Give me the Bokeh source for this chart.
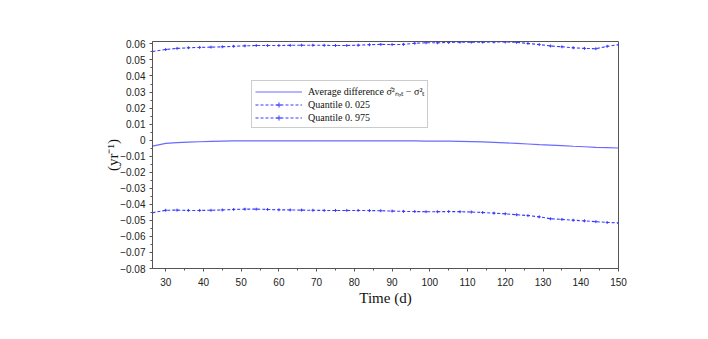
from bokeh.plotting import figure
from bokeh.models import (Range1d, FixedTicker, CustomJSTickFormatter, Legend, LegendItem)
from bokeh.embed import file_html
from bokeh.resources import INLINE

# ---- data ----
time_d = [26.5, 30, 33, 36, 39, 42, 45, 48, 51, 54, 57, 60, 63, 66, 69, 72, 75, 78, 81, 84,
          87, 90, 93, 96, 99, 102, 105, 108, 111, 114, 117, 120, 123, 126, 129, 132, 135,
          138, 141, 144, 147, 150]

avg_diff = [-0.0037, -0.0020, -0.0015, -0.0012, -0.0010, -0.0008, -0.0006, -0.0005, -0.0004,
            -0.0004, -0.0004, -0.0004, -0.0004, -0.0004, -0.0005, -0.0005, -0.0005, -0.0005,
            -0.0005, -0.0005, -0.0005, -0.0005, -0.0005, -0.0005, -0.0006, -0.0006, -0.0006,
            -0.0007, -0.0009, -0.0011, -0.0014, -0.0017, -0.0020, -0.0024, -0.0028, -0.0031,
            -0.0034, -0.0038, -0.0041, -0.0045, -0.0047, -0.0049]

q025 = [-0.0452, -0.0437, -0.0436, -0.0438, -0.0438, -0.0437, -0.0435, -0.0432, -0.0430,
        -0.0430, -0.0432, -0.0434, -0.0435, -0.0436, -0.0437, -0.0438, -0.0438, -0.0438,
        -0.0438, -0.0439, -0.0440, -0.0442, -0.0444, -0.0445, -0.0446, -0.0446, -0.0445,
        -0.0446, -0.0448, -0.0451, -0.0455, -0.0459, -0.0465, -0.0470, -0.0478, -0.0490,
        -0.0494, -0.0499, -0.0503, -0.0508, -0.0513, -0.0516]

q975 = [0.0553, 0.0565, 0.0572, 0.0576, 0.0578, 0.0580, 0.0582, 0.0585, 0.0588, 0.0590,
        0.0590, 0.0590, 0.0591, 0.0592, 0.0592, 0.0591, 0.0590, 0.0590, 0.0592, 0.0595,
        0.0597, 0.0596, 0.0597, 0.0604, 0.0607, 0.0607, 0.0609, 0.0611, 0.0611, 0.0611,
        0.0612, 0.0612, 0.0610, 0.0603, 0.0596, 0.0587, 0.0582, 0.0576, 0.0572, 0.0570,
        0.0585, 0.0595]

x_ticks = [30, 40, 50, 60, 70, 80, 90, 100, 110, 120, 130, 140, 150]
x_minor = [35, 45, 55, 65, 75, 85, 95, 105, 115, 125, 135, 145]
y_ticks = [-0.08, -0.07, -0.06, -0.05, -0.04, -0.03, -0.02, -0.01, 0.0,
           0.01, 0.02, 0.03, 0.04, 0.05, 0.06]
y_minor = [-0.075, -0.065, -0.055, -0.045, -0.035, -0.025, -0.015, -0.005,
           0.005, 0.015, 0.025, 0.035, 0.045, 0.055]

labels = ["Average difference \u03c3\u0302\u00b2\u2099,\u209c \u2212 \u03c3\u00b2\u209c",
          "Quantile 0. 025", "Quantile 0. 975"]

# ---- figure ----
p = figure(width=700, height=330, output_backend="svg", toolbar_location=None,
           x_range=Range1d(26.5, 150), y_range=Range1d(-0.08, 0.0615),
           min_border_left=152, min_border_right=82, min_border_top=41, min_border_bottom=62)

p.background_fill_color = "white"
p.border_fill_color = "white"
p.outline_line_color = "#555555"
p.outline_line_width = 1
p.xgrid.visible = False
p.ygrid.visible = False

serif = "Liberation Serif"
sans = "Liberation Sans"

p.xaxis.ticker = FixedTicker(ticks=x_ticks, minor_ticks=x_minor)
p.yaxis.ticker = FixedTicker(ticks=y_ticks, minor_ticks=y_minor)
p.yaxis.formatter = CustomJSTickFormatter(code="""
if (Math.abs(tick) < 1e-9) return "0";
return tick.toFixed(2).replace("-", "\\u2212");
""")

for ax in (p.xaxis[0], p.yaxis[0]):
    ax.axis_line_color = "#555555"
    ax.major_tick_line_color = "#555555"
    ax.minor_tick_line_color = "#555555"
    ax.major_tick_in = 0
    ax.major_tick_out = 3
    ax.minor_tick_in = 0
    ax.minor_tick_out = 2
    ax.major_label_text_font = sans
    ax.major_label_text_font_size = "10px"
    ax.major_label_text_color = "#222222"
    ax.axis_label_text_font = serif
    ax.axis_label_text_font_size = "15px"
    ax.axis_label_text_font_style = "normal"
    ax.axis_label_text_color = "#111111"

p.xaxis.axis_label = "Time (d)"
p.yaxis.axis_label = "(yr\u207b\u00b9)"
p.xaxis.major_label_standoff = 6
p.xaxis.axis_label_standoff = 1
p.yaxis.major_label_standoff = 4
p.yaxis.axis_label_standoff = -4

blue_solid = "#6a6aff"
blue_dash = "#3a3aff"

r_avg = p.line(time_d, avg_diff, line_color=blue_solid, line_width=1.2)
r_q1 = p.line(time_d, q025, line_color=blue_dash, line_width=1.1, line_dash="3 2")
m_q1 = p.scatter(time_d, q025, marker="cross", size=3, line_color=blue_dash, line_width=1)
r_q2 = p.line(time_d, q975, line_color=blue_dash, line_width=1.1, line_dash="3 2")
m_q2 = p.scatter(time_d, q975, marker="cross", size=3, line_color=blue_dash, line_width=1)

legend = Legend(items=[
    LegendItem(label=labels[0], renderers=[r_avg]),
    LegendItem(label=labels[1], renderers=[r_q1, m_q1]),
    LegendItem(label=labels[2], renderers=[r_q2, m_q2]),
], location=(99, 140))
legend.label_text_font = serif
legend.label_text_font_size = "10px"
legend.label_text_color = "#111111"
legend.glyph_width = 47
legend.glyph_height = 13
legend.label_height = 13
legend.label_standoff = 6
legend.spacing = 0
legend.padding = 3
legend.margin = 0
legend.border_line_color = "#999999"
legend.border_line_width = 1
legend.background_fill_color = "white"
legend.background_fill_alpha = 1
p.add_layout(legend, "center")

open("out.html", "w").write(file_html(p, INLINE))
